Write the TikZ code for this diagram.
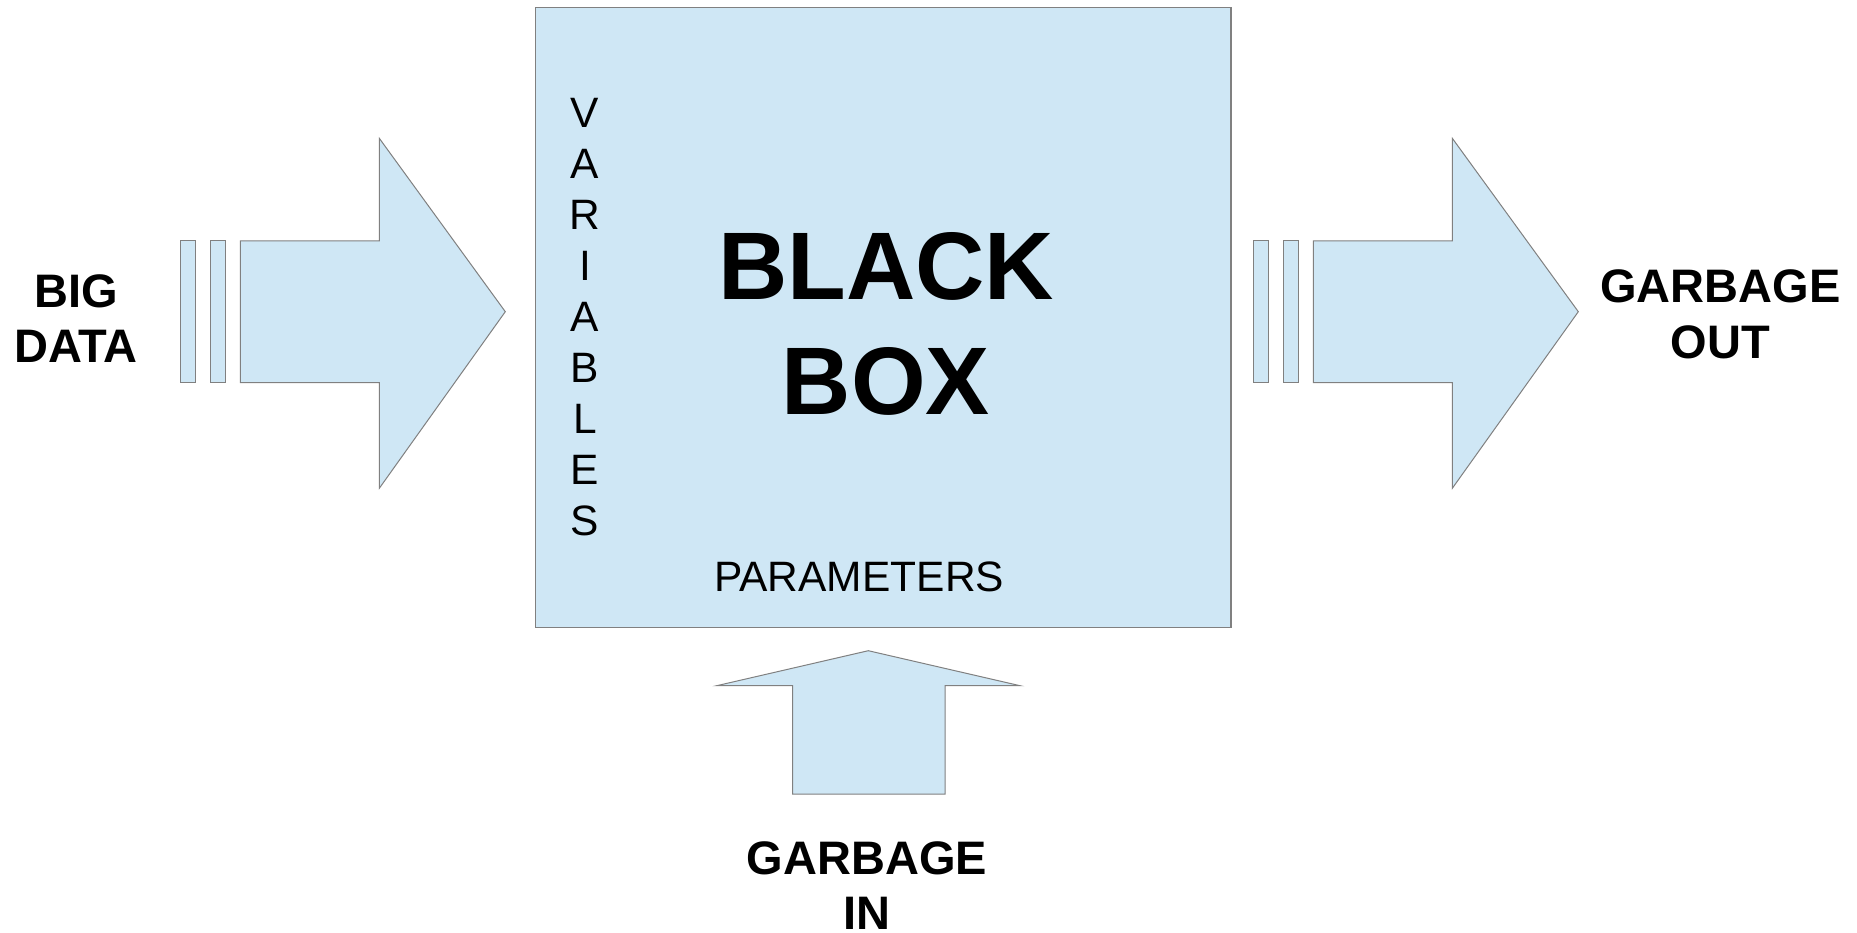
\documentclass[tikz,border=0pt]{standalone}
\usepackage{fontspec}
\setmainfont{Liberation Sans}
\definecolor{boxblue}{RGB}{207,231,245}
\definecolor{edgegray}{RGB}{128,128,128}
\tikzset{
  pane/.style={fill=boxblue, draw=edgegray, line width=1pt, line join=miter},
  label/.style={anchor=base, align=center, inner sep=0pt},
  bigbold/.style={label, font=\bfseries\fontsize{96}{114.7}\selectfont},
  midbold/.style={label, font=\bfseries\fontsize{47}{55.5}\selectfont},
  plaintxt/.style={label, font=\fontsize{42.5}{51.2}\selectfont},
}

\begin{document}
\begin{tikzpicture}[x=1pt, y=-1pt]
\useasboundingbox (0,0) rectangle (1857,933);

% the box
\draw[pane, line width=1.3pt] (535.3,7.3) rectangle (1231,627.7);

% arrow in and arrow out, each with two bars
\foreach \dx in {0,1073}{
  \begin{scope}[xshift=\dx pt]
    \draw[pane] (180.3,241) rectangle (195.7,382.7);
    \draw[pane] (210.3,241) rectangle (225.7,382.7);
    \draw[pane] (240.3,241) -- (379.3,241) -- (379.3,138.3) -- (505.3,311.7)
      -- (379.3,488.3) -- (379.3,382.7) -- (240.3,382.7) -- cycle;
  \end{scope}
}

% arrow from below
\draw[pane] (792.7,794) -- (792.7,685.7) -- (716.7,685.7) -- (868.3,650.7)
  -- (1020,685.7) -- (945,685.7) -- (945,794) -- cycle;

% texts (anchored at the baseline of the last line)
\node[midbold] (bigdata) at (76,362.7) {BIG\\DATA};
\node[bigbold] (blackbox) at (886,414) {BLACK\\BOX};
\node[midbold] (garbout) at (1720.3,358.3) {GARBAGE\\OUT};
\node[midbold] (garbin) at (867,929.5) {GARBAGE\\IN};
\node[plaintxt, font=\fontsize{42.5}{51}\selectfont] (params) at (859.2,591.7) {PARAMETERS};
\node[plaintxt, font=\fontsize{42.5}{51}\selectfont] (vars) at (585,535) {V\\A\\R\\I\\A\\B\\L\\E\\S};

\end{tikzpicture}
\end{document}
